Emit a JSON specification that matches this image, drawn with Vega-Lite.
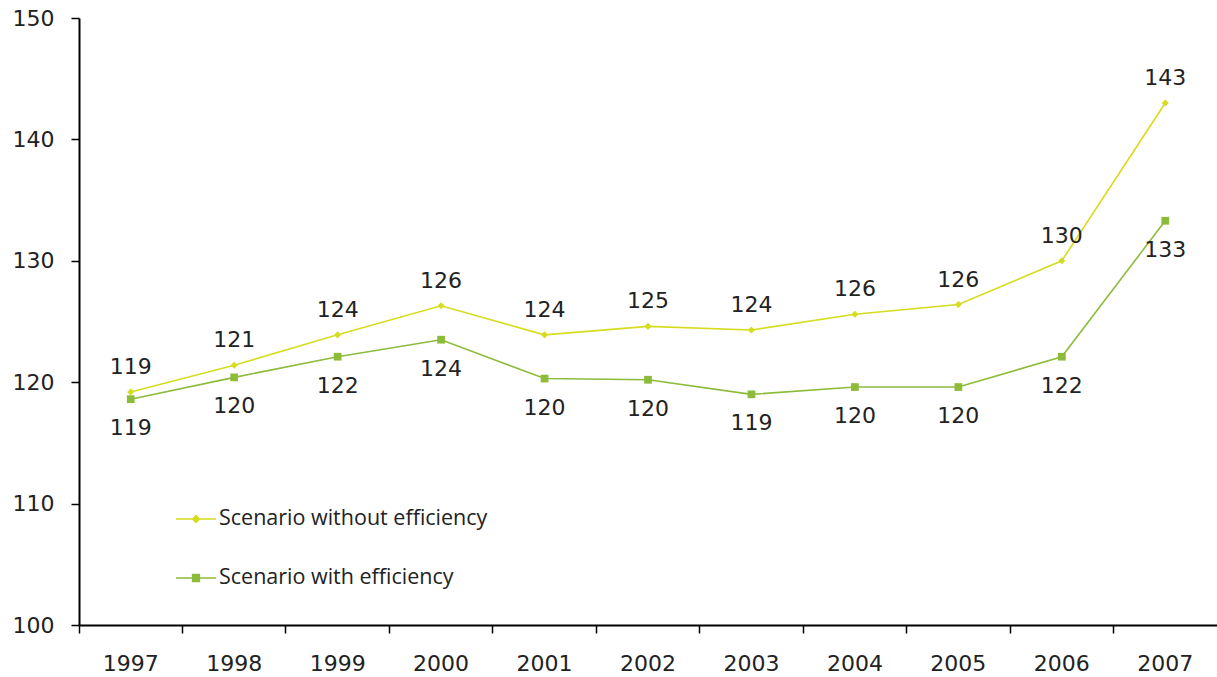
{
  "$schema": "https://vega.github.io/schema/vega-lite/v6.json",
  "width": 1138,
  "height": 607,
  "autosize": "none",
  "padding": {"left": 79, "top": 18, "right": 0, "bottom": 52},
  "background": "white",
  "config": {
    "view": {"stroke": null},
    "font": "DejaVu Sans"
  },
  "data": {
    "values": [
      {"year": "1997", "series": "Scenario without efficiency", "value": 119.2},
      {"year": "1998", "series": "Scenario without efficiency", "value": 121.4},
      {"year": "1999", "series": "Scenario without efficiency", "value": 123.9},
      {"year": "2000", "series": "Scenario without efficiency", "value": 126.3},
      {"year": "2001", "series": "Scenario without efficiency", "value": 123.9},
      {"year": "2002", "series": "Scenario without efficiency", "value": 124.6},
      {"year": "2003", "series": "Scenario without efficiency", "value": 124.3},
      {"year": "2004", "series": "Scenario without efficiency", "value": 125.6},
      {"year": "2005", "series": "Scenario without efficiency", "value": 126.4},
      {"year": "2006", "series": "Scenario without efficiency", "value": 130.0},
      {"year": "2007", "series": "Scenario without efficiency", "value": 143.0},
      {"year": "1997", "series": "Scenario with efficiency", "value": 118.6},
      {"year": "1998", "series": "Scenario with efficiency", "value": 120.4},
      {"year": "1999", "series": "Scenario with efficiency", "value": 122.1},
      {"year": "2000", "series": "Scenario with efficiency", "value": 123.5},
      {"year": "2001", "series": "Scenario with efficiency", "value": 120.3},
      {"year": "2002", "series": "Scenario with efficiency", "value": 120.2},
      {"year": "2003", "series": "Scenario with efficiency", "value": 119.0},
      {"year": "2004", "series": "Scenario with efficiency", "value": 119.6},
      {"year": "2005", "series": "Scenario with efficiency", "value": 119.6},
      {"year": "2006", "series": "Scenario with efficiency", "value": 122.1},
      {"year": "2007", "series": "Scenario with efficiency", "value": 133.3}
    ]
  },
  "encoding": {
    "x": {
      "field": "year",
      "type": "ordinal",
      "scale": {"type": "band", "paddingInner": 0, "paddingOuter": 0},
      "axis": {
        "title": null,
        "labelAngle": 0,
        "bandPosition": 0,
        "labelOffset": 0,
        "domainColor": "#000",
        "domainWidth": 2,
        "tickColor": "#000",
        "tickWidth": 1.5,
        "tickSize": 8,
        "labelFontSize": 22,
        "labelColor": "#222",
        "labelPadding": 20
      }
    },
    "y": {
      "field": "value",
      "type": "quantitative",
      "scale": {"domain": [100, 150], "nice": false, "zero": false},
      "axis": {
        "title": null,
        "values": [100, 110, 120, 130, 140, 150],
        "grid": false,
        "domainColor": "#000",
        "domainWidth": 2,
        "tickColor": "#000",
        "tickWidth": 1.5,
        "tickSize": 8,
        "labelFontSize": 22,
        "labelColor": "#222",
        "labelPadding": 17
      }
    },
    "color": {
      "field": "series",
      "type": "nominal",
      "sort": ["Scenario without efficiency", "Scenario with efficiency"],
      "scale": {
        "domain": ["Scenario without efficiency", "Scenario with efficiency"],
        "range": ["#d6dc1e", "#8dbb3a"]
      },
      "legend": {
        "title": null,
        "orient": "none",
        "legendX": 96,
        "legendY": 480,
        "direction": "vertical",
        "symbolSize": 1600,
        "symbolStrokeWidth": 1.5,
        "rowPadding": 27,
        "labelFont": "Open Sans",
        "labelFontSize": 21.5,
        "labelLimit": 0,
        "labelColor": "#222",
        "labelOffset": 2,
        "encode": {
          "symbols": {
            "update": {
              "shape": {"signal": "datum.value === 'Scenario without efficiency' ? 'M-1,0H1M0,-0.17L0.17,0L0,0.17L-0.17,0Z' : 'M-1,0H1M-0.17,-0.17H0.17V0.17H-0.17Z'"},
              "stroke": {"scale": "color", "field": "value"},
              "fill": {"scale": "color", "field": "value"},
              "strokeWidth": {"value": 1.5}
            }
          }
        }
      }
    }
  },
  "layer": [
    {
      "mark": {"type": "line", "strokeWidth": 1.6}
    },
    {
      "transform": [{"filter": "datum.series === 'Scenario without efficiency'"}],
      "mark": {"type": "point", "filled": true, "shape": "diamond", "size": 50, "opacity": 1}
    },
    {
      "transform": [{"filter": "datum.series === 'Scenario with efficiency'"}],
      "mark": {"type": "point", "filled": true, "shape": "square", "size": 60, "opacity": 1}
    },
    {
      "transform": [{"filter": "datum.series === 'Scenario without efficiency'"}],
      "mark": {"type": "text", "dy": -25, "fontSize": 22, "color": "#222", "baseline": "middle"},
      "encoding": {
        "text": {"field": "value", "type": "quantitative", "format": ".0f"},
        "color": {"value": "#222"}
      }
    },
    {
      "transform": [{"filter": "datum.series === 'Scenario with efficiency'"}],
      "mark": {"type": "text", "dy": 29, "fontSize": 22, "color": "#222", "baseline": "middle"},
      "encoding": {
        "text": {"field": "value", "type": "quantitative", "format": ".0f"},
        "color": {"value": "#222"}
      }
    }
  ]
}
